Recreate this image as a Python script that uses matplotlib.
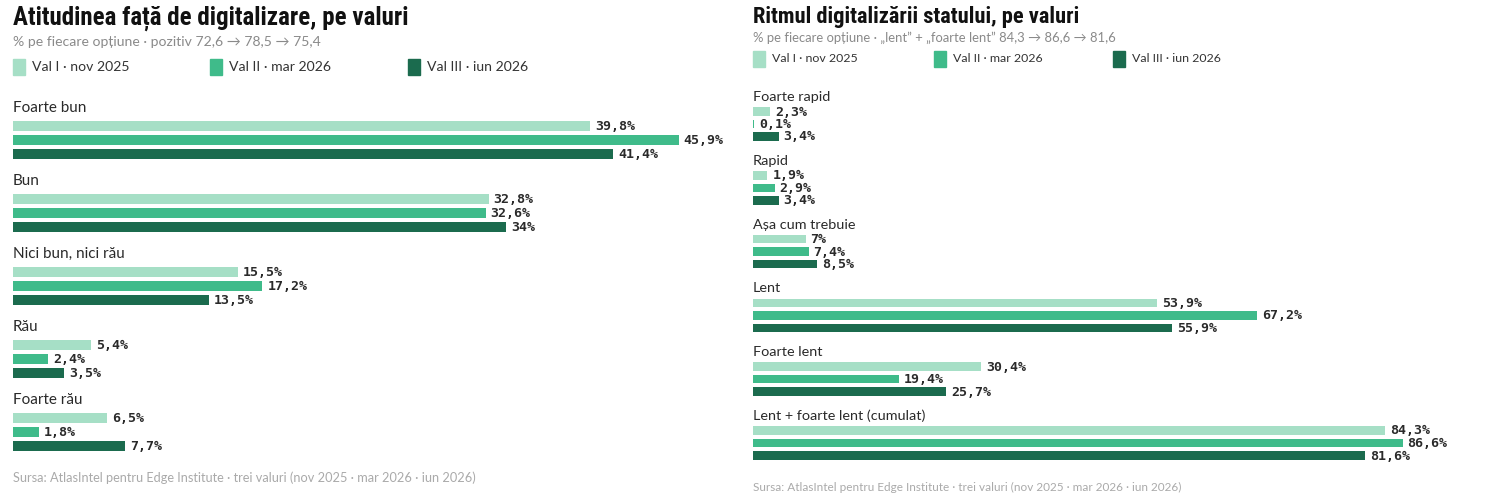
import matplotlib
matplotlib.use("Agg")
import matplotlib.pyplot as plt
from matplotlib import font_manager

# pick a narrow sans for the titles if there is one
names = set(f.name for f in font_manager.fontManager.ttflist)
narrow = "DejaVu Sans"
for cand in ["Roboto Condensed", "Liberation Sans Narrow", "Open Sans Condensed", "Roboto"]:
    if cand in names:
        narrow = cand
        break
body = ["Lato", "DejaVu Sans"]
mono = "DejaVu Sans Mono"

waves = ["Val I · nov 2025", "Val II · mar 2026", "Val III · iun 2026"]
colors = ["#a6dfc6", "#3fbb8a", "#1b6b4e"]

# left panel
att_cats = ["Foarte bun", "Bun", "Nici bun, nici rău", "Rău", "Foarte rău"]
att_v1 = [39.8, 32.8, 15.5, 5.4, 6.5]
att_v2 = [45.9, 32.6, 17.2, 2.4, 1.8]
att_v3 = [41.4, 34.0, 13.5, 3.5, 7.7]

# right panel
rit_cats = ["Foarte rapid", "Rapid", "Așa cum trebuie", "Lent", "Foarte lent",
            "Lent + foarte lent (cumulat)"]
rit_v1 = [2.3, 1.9, 7.0, 53.9, 30.4, 84.3]
rit_v2 = [0.1, 2.9, 7.4, 67.2, 19.4, 86.6]
rit_v3 = [3.4, 3.4, 8.5, 55.9, 25.7, 81.6]


def fmt(v):
    s = f"{v:.1f}".replace(".", ",")
    if s.endswith(",0"):
        s = s[:-2]
    return s + "%"


W, H = 1500, 500
fig = plt.figure(figsize=(15, 5), dpi=100)


def panel(x0, cats, series, pxper, first, pitch, offs, bh, fs, title, tfs, sub, sfs, lfs, srcfs,
          ty, sy, ly, srcy, legx):
    # axes: pixel coords vertically, percent horizontally
    axw = 720
    xmax = axw / pxper
    ax = fig.add_axes([x0 / W, 0, axw / W, 1])
    ax.set_ylim(H, 0)
    ax.set_xlim(0, xmax)
    ax.axis("off")
    for i, c in enumerate(cats):
        top = first + i * pitch
        ax.text(0, top, c, fontsize=fs, family=body, color="#2a2a2a", va="center", ha="left")
        for k, s in enumerate(series):
            y = top + offs[k]
            ax.barh(y, s[i], height=bh, color=colors[k], left=0)
            ax.text(s[i] + 5 / pxper, y + 0.5, fmt(s[i]), fontsize=9.5, family=mono,
                    fontweight="bold", color="#2a2a2a", va="center", ha="left")
    fig.text(x0 / W, 1 - ty / H, title, fontsize=tfs, fontweight="bold", family=[narrow, "DejaVu Sans"],
             color="#111111", va="center", ha="left")
    fig.text(x0 / W, 1 - sy / H, sub, fontsize=sfs, family=body, color="#8a8a8a",
             va="center", ha="left")
    for k in range(3):
        lx = x0 + legx[k]
        fig.patches.append(plt.Rectangle((lx / W, 1 - (ly + 7.5) / H), 12 / W, 15 / H,
                                         transform=fig.transFigure, color=colors[k]))
        fig.text((lx + 19) / W, 1 - ly / H, waves[k], fontsize=lfs, family=body,
                 color="#333333", va="center", ha="left")
    fig.text(x0 / W, 1 - srcy / H,
             "Sursa: AtlasIntel pentru Edge Institute · trei valuri (nov 2025 · mar 2026 · iun 2026)",
             fontsize=srcfs, family=body, color="#aaaaaa", va="center", ha="left")


panel(13, att_cats, [att_v1, att_v2, att_v3], 14.5, 108, 73, [18, 32, 46], 9.5, 11,
      "Atitudinea față de digitalizare, pe valuri", 18,
      "% pe fiecare opțiune · pozitiv 72,6 → 78,5 → 75,4", 10.1, 10.1, 9.2,
      18, 42, 67, 478, [0, 197, 395])

panel(753, rit_cats, [rit_v1, rit_v2, rit_v3], 7.5, 97, 63.8, [14.5, 27, 39.5], 8.5, 10.4,
      "Ritmul digitalizării statului, pe valuri", 16.2,
      "% pe fiecare opțiune · „lent” + „foarte lent” 84,3 → 86,6 → 81,6", 9.4, 8.9, 8.5,
      17, 38, 59, 487, [0, 181, 360])

fig.savefig("out.png", dpi=100, facecolor="white")
